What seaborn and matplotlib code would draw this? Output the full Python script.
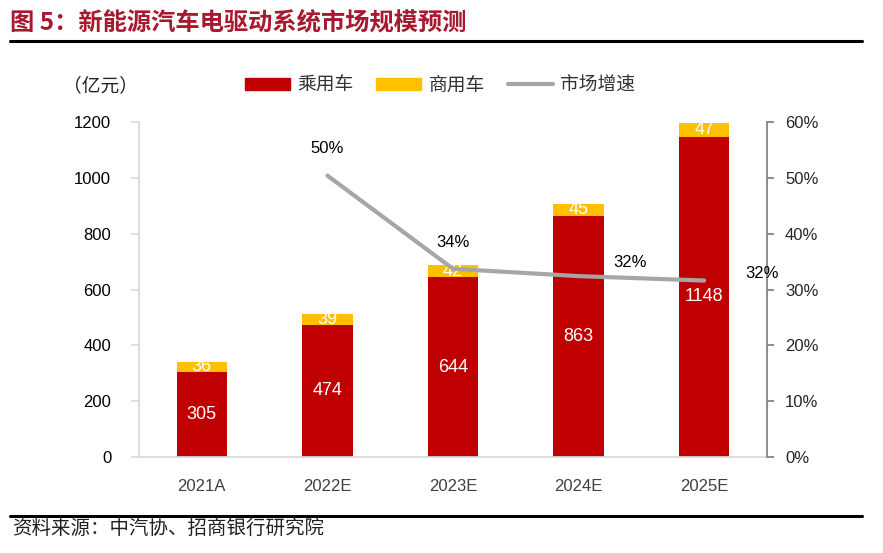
import matplotlib
matplotlib.use("Agg")
import matplotlib.pyplot as plt
import seaborn as sns
import pandas as pd
from matplotlib.patches import Patch
from matplotlib.lines import Line2D

categories = ["2021A", "2022E", "2023E", "2024E", "2025E"]
passenger = [305, 474, 644, 863, 1148]
commercial = [36, 39, 42, 45, 47]
growth = [None, 0.504, 0.337, 0.324, 0.316]
growth_labels = ["", "50%", "34%", "32%", "32%"]

sns.set_theme(style="white")
plt.rcParams['font.family'] = ['Liberation Sans', 'Noto Sans CJK SC', 'DejaVu Sans']
CJK = ['Noto Sans CJK SC', 'DejaVu Sans']

RED = "#C00000"
YEL = "#FFC000"
GRAY = "#A6A6A6"

fig = plt.figure(figsize=(8.83, 5.53), dpi=100)
ax = fig.add_axes([139/883, 1-457/553, (767-139)/883, (457-122)/553])

df = pd.DataFrame({"cat": categories, "passenger": passenger, "commercial": commercial,
                   "total": [p + c for p, c in zip(passenger, commercial)]})

sns.barplot(data=df, x="cat", y="total", color=YEL, width=0.4, ax=ax, saturation=1, linewidth=0)
sns.barplot(data=df, x="cat", y="passenger", color=RED, width=0.4, ax=ax, saturation=1, linewidth=0)

ax.set_ylim(0, 1200)
ax.set_xlim(-0.5, 4.5)
ax.set_yticks(range(0, 1201, 200))
ax.set_xlabel("")
ax.set_ylabel("")
for s in ["top", "right"]:
    ax.spines[s].set_visible(False)
ax.spines["left"].set_color("#D9D9D9")
ax.spines["bottom"].set_color("#D9D9D9")
ax.tick_params(axis="y", which="both", left=True, length=6, color="#D9D9D9",
               labelsize=12, pad=14, labelcolor="#000000")
ax.tick_params(axis="x", bottom=False, labelsize=12, pad=10, labelcolor="#404040")

for i, (p, c) in enumerate(zip(passenger, commercial)):
    ax.text(i, p / 2, str(p), ha="center", va="center", color="white", fontsize=13)
    ax.text(i, p + c / 2, str(c), ha="center", va="center", color="white", fontsize=13)

ax2 = ax.twinx()
gdf = pd.DataFrame({"x": list(range(1, 5)), "g": growth[1:]})
sns.lineplot(data=gdf, x="x", y="g", color=GRAY, lw=3, ax=ax2)
ax2.set_ylim(0, 0.6)
ax2.set_xlim(-0.5, 4.5)
ax2.set_yticks([i / 10 for i in range(7)])
ax2.set_yticklabels([f"{i*10}%" for i in range(7)])
ax2.set_ylabel("")
ax2.set_xlabel("")
for s in ["top", "left", "bottom"]:
    ax2.spines[s].set_visible(False)
ax2.spines["right"].set_color("#808080")
ax2.tick_params(axis="y", right=True, length=5, color="#808080", labelsize=12, pad=8)
ax2.grid(False)

offsets = {1: (0, 0.048, "center"), 2: (0, 0.048, "center"), 3: (0.28, 0.025, "left"), 4: (0.33, 0.012, "left")}
for i in range(1, 5):
    dx, dy, ha = offsets[i]
    ax2.text(i + dx, growth[i] + dy, growth_labels[i], ha=ha, va="center", fontsize=12, color="black")

# unit label
fig.text(63/883, 1-86/553, "（亿元）", fontsize=13.5, family=CJK, va="center", ha="left", color="#222222")

# legend
handles = [Patch(color=RED, label="乘用车"), Patch(color=YEL, label="商用车"),
           Line2D([0], [0], color=GRAY, lw=3, label="市场增速")]
leg = fig.legend(handles=handles, loc="center", bbox_to_anchor=(440/883, 1-85/553), ncol=3,
                 frameon=False, prop={'family': CJK, 'size': 13.5}, handlelength=2.4,
                 handleheight=0.6, columnspacing=1.2, handletextpad=0.4)
for t in leg.get_texts():
    t.set_color("#333333")

# title
fig.text(10/883, 1-22/553, "图 5：新能源汽车电驱动系统市场规模预测", fontsize=17.5, fontweight="bold",
         color="#A6192E", family=CJK, va="center", ha="left")
fig.add_artist(Line2D([10/883, 862/883], [1-41/553, 1-41/553], color="black", lw=2.2,
                      transform=fig.transFigure))
fig.add_artist(Line2D([10/883, 862/883], [1-516/553, 1-516/553], color="black", lw=2.2,
                      transform=fig.transFigure))
fig.text(12/883, 1-528/553, "资料来源：中汽协、招商银行研究院", fontsize=14, family=CJK,
         va="center", ha="left", color="#222222")

fig.savefig("out.png", dpi=100)
